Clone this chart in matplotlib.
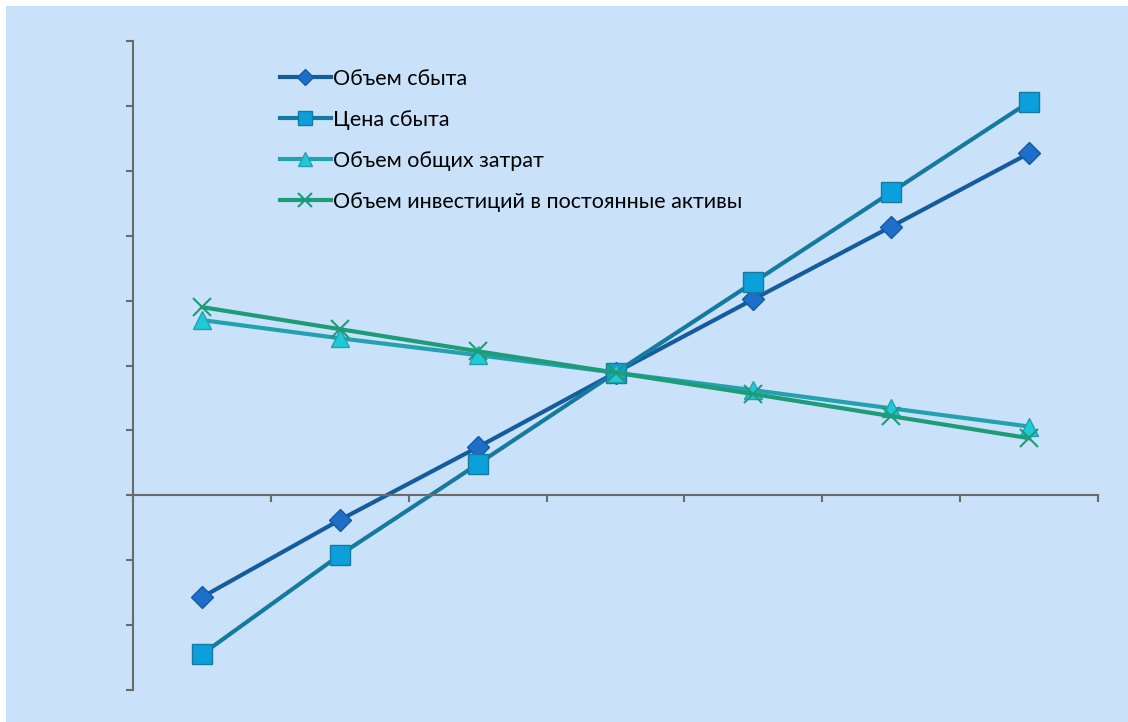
import matplotlib.pyplot as plt
from matplotlib.patches import Rectangle

plt.rcParams['font.family'] = ['Lato', 'DejaVu Sans']

# шаги изменения фактора (7 точек), значения в % (шкала без подписей)
steps = [-30, -20, -10, 0, 10, 20, 30]
labels = ['Объем сбыта', 'Цена сбыта', 'Объем общих затрат',
          'Объем инвестиций в постоянные активы']
sales_volume = [-15.7, -3.8, 7.4, 18.9, 30.2, 41.4, 52.7]
sales_price = [-24.5, -9.2, 4.8, 18.9, 32.8, 46.7, 60.6]
total_costs = [27.0, 24.2, 21.6, 18.9, 16.2, 13.4, 10.6]
fixed_invest = [29.0, 25.6, 22.2, 18.9, 15.6, 12.2, 8.8]

bg = '#C9E2F9'
axis_c = '#6B6B6B'

W, H = 1128, 722
fig = plt.figure(figsize=(W / 100, H / 100), dpi=100)
fig.patch.set_facecolor('white')
fig.patches.append(Rectangle((6 / W, 0), 1 - 6 / W, 1 - 6 / H, transform=fig.transFigure,
                             facecolor=bg, edgecolor='none', zorder=-10))

ax = fig.add_axes([133 / W, (H - 690) / H, (1098 - 133) / W, (690 - 41) / H])
ax.set_facecolor('none')

x = list(range(len(steps)))
ax.plot(x, sales_volume, color='#155C9E', lw=3, marker='D', ms=11,
        mfc='#1E6FC9', mec='#155AA5', mew=1, label=labels[0])
ax.plot(x, sales_price, color='#167A9F', lw=3, marker='s', ms=14,
        mfc='#0BA0DB', mec='#167A9F', mew=1, label=labels[1])
ax.plot(x, total_costs, color='#22A1AF', lw=3, marker='^', ms=13,
        mfc='#1FCAD6', mec='#22A1AF', mew=1, label=labels[2])
ax.plot(x, fixed_invest, color='#1E9B78', lw=3, marker='x', ms=13,
        mec='#1E9B78', mew=1.5, label=labels[3])

ax.set_xlim(-0.5, len(steps) - 0.5)
ax.set_ylim(-30, 70)
ax.set_yticks(range(-30, 71, 10))
ax.set_xticks([i - 0.5 for i in range(len(steps) + 1)])
ax.set_xticklabels([])
ax.set_yticklabels([])

for s in ['top', 'right']:
    ax.spines[s].set_visible(False)
ax.spines['left'].set_color(axis_c)
ax.spines['left'].set_linewidth(1.5)
ax.spines['bottom'].set_position(('data', 0))
ax.spines['bottom'].set_color(axis_c)
ax.spines['bottom'].set_linewidth(1.5)
ax.tick_params(axis='both', direction='out', length=5, width=1.5, color=axis_c)

leg = ax.legend(loc='upper left', bbox_to_anchor=(271 / W, (H - 60) / H),
                bbox_transform=fig.transFigure, frameon=False, fontsize=15.5,
                handlelength=2.4, handletextpad=0.1, labelspacing=0.98,
                markerscale=0.75, borderaxespad=0)

fig.savefig('out.png', dpi=100)
